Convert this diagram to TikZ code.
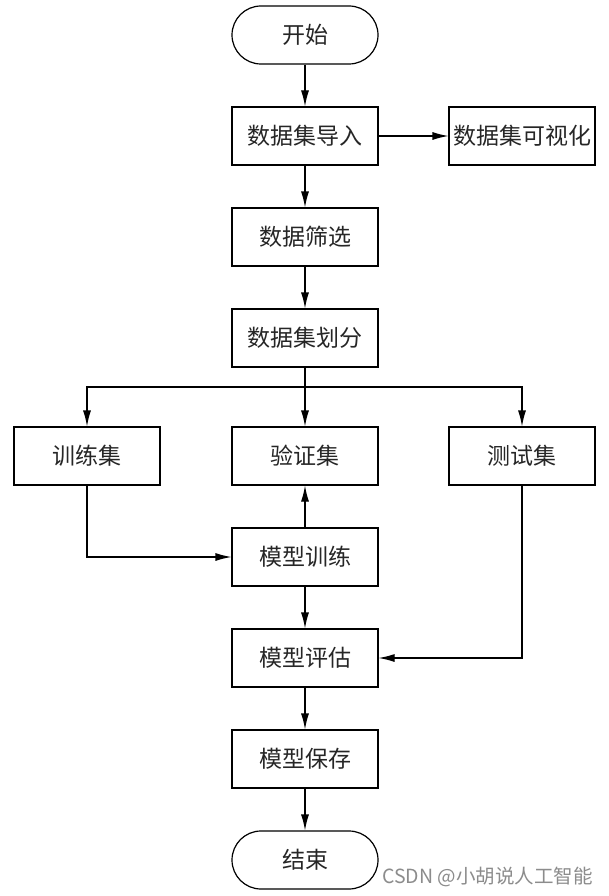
\documentclass[tikz,border=0pt]{standalone}
\usepackage{fontspec}
\newfontfamily\cjk{Noto Sans CJK SC}
\usetikzlibrary{arrows.meta,calc}
\begin{document}
\begin{tikzpicture}[x=1pt,y=1pt,
  box/.style={draw, line width=1.2pt, minimum width=146pt, minimum height=58pt, inner sep=0pt, font=\cjk\fontsize{23}{26}\selectfont, text=black!85},
  term/.style={box, rounded corners=29pt},
  conn/.style={line width=1.2pt, -{Latex[length=16pt,width=8pt]}},
  plain/.style={line width=1.2pt}]
\path[use as bounding box, fill=white] (0,0) rectangle (608,-896);
\node[term] (start) at (305,-35) {开始};
\node[box] (imp) at (305,-136) {数据集导入};
\node[box] (vis) at (522,-136) {数据集可视化};
\node[box] (flt) at (305,-237) {数据筛选};
\node[box] (div) at (305,-338) {数据集划分};
\node[box] (train) at (87,-456) {训练集};
\node[box] (val) at (305,-456) {验证集};
\node[box] (test) at (522,-456) {测试集};
\node[box] (mtr) at (305,-557) {模型训练};
\node[box] (mev) at (305,-658) {模型评估};
\node[box] (msv) at (305,-759) {模型保存};
\node[term] (stop) at (305,-860) {结束};
\coordinate (sp) at (305,-387);
\draw[conn] (start) -- (imp);
\draw[conn] (imp) -- (vis);
\draw[conn] (imp) -- (flt);
\draw[conn] (flt) -- (div);
\draw[conn] (div) -- (val);
\draw[conn] (sp) -| (train.north);
\draw[conn] (sp) -| (test.north);
\draw[conn] (train.south) |- (mtr.west);
\draw[conn] (mtr) -- (val);
\draw[conn] (mtr) -- (mev);
\draw[conn] (test.south) |- (mev.east);
\draw[conn] (mev) -- (msv);
\draw[conn] (msv) -- (stop);
\node[anchor=west, inner sep=0pt, text=black!45, font=\cjk\fontsize{19.5}{22}\selectfont] (wm) at (382,-877) {CSDN @小胡说人工智能};
\end{tikzpicture}
\end{document}
